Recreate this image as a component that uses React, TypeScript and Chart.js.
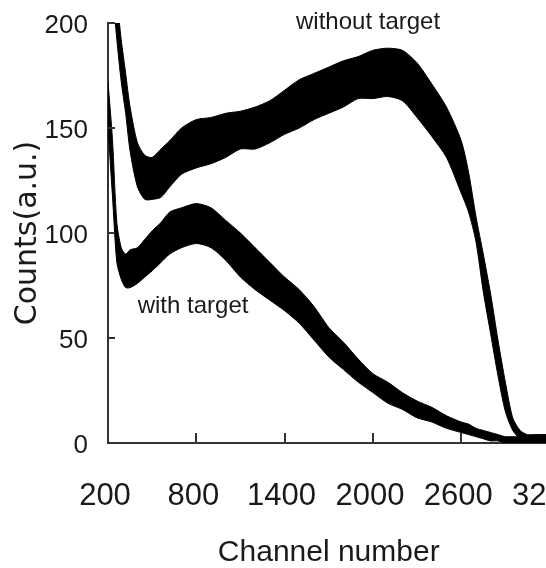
import { useEffect, useRef } from "react";
import { Chart, registerables } from "chart.js";

Chart.register(...registerables);

// Channel positions where the spectra envelopes are sampled
const channel = [
  200, 230, 260, 290, 320, 350, 400, 450, 500, 560, 620, 700, 800, 900, 1000,
  1100, 1200, 1300, 1400, 1500, 1600, 1700, 1800, 1900, 2000, 2100, 2200, 2300,
  2400, 2500, 2600, 2650, 2700, 2750, 2800, 2850, 2900, 2950, 3000, 3050, 3100,
  3200,
];

// Spectrum without target: upper and lower edge of the noisy trace
const withoutTargetHigh = [
  255, 232, 212, 192, 176, 160, 143, 137, 136, 140, 144, 150, 154, 155, 157,
  158, 160, 163, 168, 173, 176, 179, 182, 184, 187, 188, 187, 181, 171, 160,
  144, 129, 108, 90, 71, 49, 29, 12, 6, 4, 4, 4,
];
const withoutTargetLow = [
  240, 216, 192, 172, 157, 139, 122, 116, 116, 117, 122, 128, 131, 133, 136,
  140, 140, 143, 147, 150, 154, 157, 160, 164, 164, 165, 163, 155, 146, 136,
  119, 110, 96, 72, 52, 32, 15, 6, 2, 0, 0, 0,
];

// Spectrum with target: upper and lower edge of the noisy trace
const withTargetHigh = [
  172, 145, 105, 93, 90, 92, 93, 97, 101, 105, 110, 112, 114, 112, 106, 100,
  93, 86, 79, 73, 65, 55, 48, 40, 33, 29, 24, 20, 17, 13, 10, 9, 7, 6, 5, 4, 3,
  3, 3, 3, 3, 3,
];
const withTargetLow = [
  150, 118, 86, 78, 74, 74, 76, 79, 82, 86, 90, 93, 95, 93, 87, 79, 73, 68, 63,
  57, 49, 41, 35, 29, 24, 19, 16, 12, 10, 7, 5, 4, 3, 2, 1, 1, 0, 0, 0, 0, 0, 0,
];

const xTicks = [200, 800, 1400, 2000, 2600, 3200];
const yTicks = [0, 50, 100, 150, 200];

const curveLabels = [
  { text: "without target", x: 1967, y: 197 },
  { text: "with target", x: 778, y: 62 },
];

const AXIS = "#333";
const TEXT = "#1a1a1a";
const TRACE = "#000";
const SANS = "'Liberation Sans', sans-serif";

const pts = (ys: number[]) => channel.map((c, i) => ({ x: c, y: ys[i] }));

// Short tick marks pointing into the plot, plus the curve captions
const innerTicks = {
  id: "innerTicks",
  afterDraw(chart: any) {
    const { ctx, chartArea } = chart;
    const xs = chart.scales.x;
    const ys = chart.scales.y;
    ctx.save();
    ctx.strokeStyle = AXIS;
    ctx.lineWidth = 2;
    ctx.beginPath();
    xTicks.slice(1).forEach((v) => {
      const px = Math.round(xs.getPixelForValue(v));
      ctx.moveTo(px, chartArea.bottom);
      ctx.lineTo(px, chartArea.bottom - 10);
    });
    yTicks.slice(1).forEach((v) => {
      const py = Math.round(ys.getPixelForValue(v));
      ctx.moveTo(chartArea.left, py);
      ctx.lineTo(chartArea.left + 7, py);
    });
    ctx.stroke();

    ctx.fillStyle = TEXT;
    ctx.font = "24px " + SANS;
    ctx.textAlign = "center";
    ctx.textBaseline = "alphabetic";
    curveLabels.forEach((l) => {
      ctx.fillText(l.text, xs.getPixelForValue(l.x), ys.getPixelForValue(l.y));
    });
    ctx.restore();
  },
};

export default function App() {
  const ref = useRef<HTMLCanvasElement | null>(null);

  useEffect(() => {
    if (!ref.current) return;
    const band = (low: number[], high: number[]) => [
      {
        data: pts(low),
        borderColor: TRACE,
        borderWidth: 1,
        pointRadius: 0,
        tension: 0.25,
        fill: false,
      },
      {
        data: pts(high),
        borderColor: TRACE,
        borderWidth: 1,
        pointRadius: 0,
        tension: 0.25,
        backgroundColor: TRACE,
        fill: "-1",
      },
    ];

    const chart = new Chart(ref.current, {
      type: "line",
      data: {
        datasets: [
          ...band(withoutTargetLow, withoutTargetHigh),
          ...band(withTargetLow, withTargetHigh),
        ] as any,
      },
      options: {
        animation: false,
        responsive: false,
        devicePixelRatio: 1,
        layout: { padding: { left: 0, top: 23, right: 150.5, bottom: 0 } },
        plugins: {
          legend: { display: false },
          tooltip: { enabled: false },
        },
        scales: {
          x: {
            type: "linear",
            min: 200,
            max: 3200,
            afterBuildTicks: (s: any) => {
              s.ticks = xTicks.map((v) => ({ value: v }));
            },
            afterFit: (s: any) => {
              s.height = 125;
            },
            grid: { display: false, drawTicks: true, tickLength: 35 },
            border: { display: true, color: AXIS, width: 2 },
            ticks: {
              color: TEXT,
              font: { family: SANS, size: 31 },
              padding: 0,
              labelOffset: -3,
              maxRotation: 0,
              autoSkip: false,
              callback: (v: any) => String(v),
            },
            title: {
              display: true,
              text: "Channel number",
              color: TEXT,
              font: { family: SANS, size: 30, lineHeight: 1 },
              padding: { top: 0, bottom: 0 },
            },
          },
          y: {
            type: "linear",
            min: 0,
            max: 200,
            afterBuildTicks: (s: any) => {
              s.ticks = yTicks.map((v) => ({ value: v }));
            },
            afterFit: (s: any) => {
              s.width = 108;
            },
            grid: { display: false, drawTicks: true, tickLength: 20 },
            border: { display: true, color: AXIS, width: 2 },
            ticks: {
              color: TEXT,
              font: { family: SANS, size: 26 },
              padding: 0,
              labelOffset: 3,
              callback: (v: any) => String(v),
            },
            title: {
              display: true,
              text: "Counts(a.u.)",
              color: TEXT,
              font: { family: "'DejaVu Sans', sans-serif", size: 30, lineHeight: 1 },
              padding: { top: 13, bottom: 0 },
            },
          },
        },
      },
      plugins: [innerTicks],
    });
    return () => chart.destroy();
  }, []);

  return (
    <div
      style={{
        position: "fixed",
        left: 0,
        top: 0,
        width: 546,
        height: 568,
        overflow: "hidden",
        background: "#fff",
      }}
    >
      <canvas ref={ref} width={700} height={568} style={{ width: 700, height: 568 }} />
    </div>
  );
}
